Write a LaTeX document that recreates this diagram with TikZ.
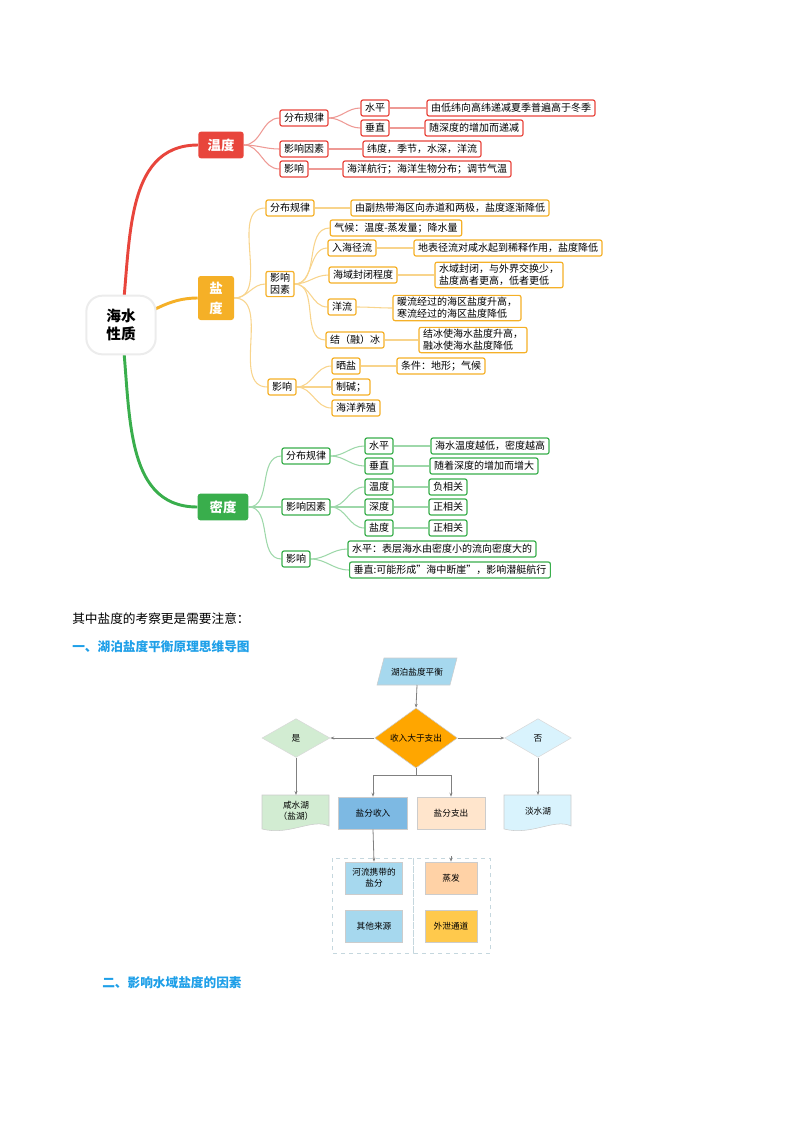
\documentclass[tikz,border=0pt]{standalone}
\usepackage{fontspec}
\setmainfont{Noto Sans CJK SC}
\usetikzlibrary{shapes.geometric,arrows.meta,backgrounds}
\definecolor{tr}{HTML}{E8453C}\definecolor{tl}{HTML}{EE9A95}
\definecolor{so}{HTML}{F5B027}\definecolor{sl}{HTML}{F8D48C}
\definecolor{dg}{HTML}{39AE4C}\definecolor{dl}{HTML}{9ED8AA}
\definecolor{hb}{HTML}{1E9FE8}
\definecolor{lb}{HTML}{A6D8EE}\definecolor{mb}{HTML}{7DB9E3}
\begin{document}
\begin{tikzpicture}[x=0.75pt,y=-0.75pt,
 bx/.style={rounded corners=1.5pt,line width=0.9pt,fill=white,inner xsep=3pt,inner ysep=1.5pt,minimum height=12pt,font=\fontsize{7.5}{9}\selectfont,align=left},
 T/.style={bx,draw=tr}, S/.style={bx,draw=so}, D/.style={bx,draw=dg},
 main/.style={rounded corners=2pt,text=white,font=\fontsize{10}{12}\selectfont\bfseries,inner sep=0pt,align=center},
 br/.style={out=0,in=180},
 tln/.style={draw=tl,line width=0.8pt}, sln/.style={draw=sl,line width=0.8pt}, dln/.style={draw=dl,line width=0.8pt},
 fc/.style={font=\fontsize{6.5}{8}\selectfont,align=center,inner sep=0pt},
 fb/.style={fc,draw=gray!40,line width=0.4pt},
 arr/.style={draw=gray,line width=0.6pt,-{Stealth[length=3pt]}}]
\useasboundingbox (0,0) rectangle (800,1132);
% center
\node[draw=gray!15,line width=1.5pt,fill=white,rounded corners=12pt,minimum width=52pt,minimum height=44pt,font=\fontsize{11}{13}\selectfont\bfseries,align=center] (c) at (121,325) {海水\\性质};
% temperature
\node[main,fill=tr,minimum width=34pt,minimum height=20pt] (t) at (221,145) {温度};
\node[T] (t1) at (304,118) {分布规律};
\node[T] (t11) at (375,108) {水平};
\node[T] (t111) at (511,108) {由低纬向高纬递减夏季普遍高于冬季};
\node[T] (t12) at (375,128) {垂直};
\node[T] (t121) at (474,128) {随深度的增加而递减};
\node[T] (t2) at (304,149) {影响因素};
\node[T] (t21) at (422,149) {纬度，季节，水深，洋流};
\node[T] (t3) at (294,169) {影响};
\node[T] (t31) at (427,169) {海洋航行；海洋生物分布；调节气温};
% salinity
\node[main,fill=so,minimum width=27pt,minimum height=33pt,font=\fontsize{10}{15}\selectfont\bfseries] (s) at (216,298) {盐\\度};
\node[S] (s1) at (290,208) {分布规律};
\node[S] (s11) at (450,208) {由副热带海区向赤道和两极，盐度逐渐降低};
\node[S] (s2) at (280,284) {影响\\因素};
\node[S] (s21) at (396,228) {气候：温度-蒸发量；降水量};
\node[S] (s22) at (352,248) {入海径流};
\node[S] (s221) at (508,248) {地表径流对咸水起到稀释作用，盐度降低};
\node[S] (s23) at (363,275) {海域封闭程度};
\node[S] (s231) at (499,275) {水域封闭，与外界交换少，\\盐度高者更高，低者更低};
\node[S] (s24) at (342,307) {洋流};
\node[S] (s241) at (457,308) {暖流经过的海区盐度升高，\\寒流经过的海区盐度降低};
\node[S] (s25) at (355,340) {结（融）冰};
\node[S] (s251) at (473,340) {结冰使海水盐度升高，\\融冰使海水盐度降低};
\node[S] (s3) at (282,387) {影响};
\node[S] (s31) at (346,366) {晒盐};
\node[S] (s311) at (441,366) {条件：地形；气候};
\node[S] (s32) at (351,387) {制碱；};
\node[S] (s33) at (356,408) {海洋养殖};
% density
\node[main,fill=dg,minimum width=38pt,minimum height=20pt] (d) at (223,507) {密度};
\node[D] (d1) at (306,456) {分布规律};
\node[D] (d11) at (379,446) {水平};
\node[D] (d111) at (490,446) {海水温度越低，密度越高};
\node[D] (d12) at (379,466) {垂直};
\node[D] (d121) at (484,466) {随着深度的增加而增大};
\node[D] (d2) at (306,507) {影响因素};
\node[D] (d21) at (379,487) {温度};
\node[D] (d211) at (448,487) {负相关};
\node[D] (d22) at (379,507) {深度};
\node[D] (d221) at (448,507) {正相关};
\node[D] (d23) at (379,528) {盐度};
\node[D] (d231) at (448,528) {正相关};
\node[D] (d3) at (296,559) {影响};
\node[D] (d31) at (442,549) {水平：表层海水由密度小的流向密度大的};
\node[D] (d32) at (450,570) {垂直:可能形成”海中断崖”，影响潜艇航行};
\begin{scope}[on background layer]
\draw[tr,line width=2.2pt] (c.center) to[out=82,in=180] (t.west);
\draw[so,line width=2.2pt] (c.center) to[out=20,in=180] (s.west);
\draw[dg,line width=2.2pt] (c.center) to[out=-82,in=180] (d.west);
\foreach \a/\b in {t/t1,t/t2,t/t3,t1/t11,t1/t12,t11/t111,t12/t121,t2/t21,t3/t31}{\draw[tln] (\a.east) to[br] (\b.west);}
\foreach \a/\b in {s/s1,s/s2,s/s3,s1/s11,s2/s21,s2/s22,s2/s23,s2/s24,s2/s25,s22/s221,s23/s231,s24/s241,s25/s251,s3/s31,s3/s32,s3/s33,s31/s311}{\draw[sln] (\a.east) to[br] (\b.west);}
\foreach \a/\b in {d/d1,d/d2,d/d3,d1/d11,d1/d12,d11/d111,d12/d121,d2/d21,d2/d22,d2/d23,d21/d211,d22/d221,d23/d231,d3/d31,d3/d32}{\draw[dln] (\a.east) to[br] (\b.west);}
\end{scope}
% text
\node[anchor=west,inner sep=0,font=\fontsize{9.5}{11}\selectfont] (p1) at (72,619) {其中盐度的考察更是需要注意：};
\node[anchor=west,inner sep=0,text=hb,font=\fontsize{9.5}{11}\selectfont\bfseries] (h1) at (72,647) {一、湖泊盐度平衡原理思维导图};
\node[anchor=west,inner sep=0,text=hb,font=\fontsize{9.5}{11}\selectfont\bfseries] (h2) at (102,983) {二、影响水域盐度的因素};
% flowchart
\fill[fill=lb,draw=gray!40,line width=0.4pt] (384,658) -- (457,658) -- (450,685) -- (377,685) -- cycle;
\node[fc] (f0) at (417,672) {湖泊盐度平衡};
\node[fb,diamond,fill=orange!70!yellow,minimum width=62pt,minimum height=29pt] (f1) at (416,738) {收入大于支出};
\node[fb,diamond,fill=green!40!gray!25,draw=gray!30,minimum width=51pt,minimum height=29pt] (fy) at (296,738) {是};
\node[fb,diamond,fill=cyan!15,draw=gray!30,minimum width=50pt,minimum height=29pt] (fn) at (538,738) {否};
\fill[fill=green!40!gray!25,draw=gray!40,line width=0.4pt] (262,795) -- (329,795) -- (329,826) .. controls (312,818) and (290,836) .. (262,829) -- cycle;
\node[fc] (fs) at (296,811) {咸水湖\\（盐湖）};
\fill[fill=cyan!15,draw=gray!40,line width=0.4pt] (504,795) -- (571,795) -- (571,826) .. controls (554,818) and (532,836) .. (504,829) -- cycle;
\node[fc] (ff) at (538,811) {淡水湖};
\node[fb,fill=mb,minimum width=52pt,minimum height=24pt] (fi) at (373,813) {盐分收入};
\node[fb,fill=orange!20,minimum width=51pt,minimum height=24pt] (fo) at (451,813) {盐分支出};
\draw[cyan!30!gray!40,dashed,line width=0.5pt] (332,858) rectangle (413,953);
\draw[cyan!30!gray!40,dashed,line width=0.5pt] (413,858) rectangle (490,953);
\node[fb,fill=lb,minimum width=43pt,minimum height=24pt] (fi1) at (374,878) {河流携带的\\盐分};
\node[fb,fill=lb,minimum width=43pt,minimum height=24pt] (fi2) at (374,926) {其他来源};
\node[fb,fill=orange!35,minimum width=39pt,minimum height=24pt] (fo1) at (451,878) {蒸发};
\node[fb,fill=orange!60!yellow!70,minimum width=39pt,minimum height=24pt] (fo2) at (451,926) {外泄通道};
\coordinate (j1) at (416,775); \coordinate (j2) at (373,775); \coordinate (j3) at (451,775);
\coordinate (j4) at (451,856);
\draw[arr] (417,685) -- (f1.north);
\draw[arr] (f1.west) -- (fy.east);
\draw[arr] (f1.east) -- (fn.west);
\draw[arr] (fy.south) -- (296,795);
\draw[arr] (fn.south) -- (538,795);
\draw[draw=gray,line width=0.6pt] (f1.south) -- (j1) (j2) -- (j3);
\draw[arr] (j2) -- (fi.north);
\draw[arr] (j3) -- (fo.north);
\draw[arr] (fi.south) -- (fi1.north);
\draw[arr] (j4) -- (fo1.north);
\end{tikzpicture}
\end{document}
